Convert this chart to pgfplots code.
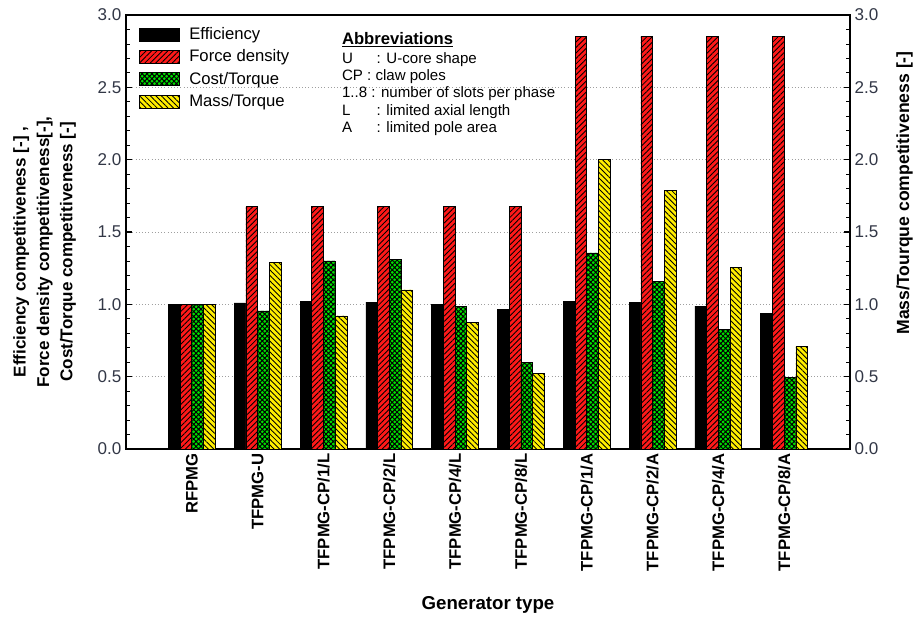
\documentclass[border=0pt]{standalone}
\usepackage{pgfplots}
\pgfplotsset{compat=1.18}
\usepackage{pgfplotstable}
\usepackage{fontspec}
\setmainfont{Liberation Sans}
\usetikzlibrary{patterns.meta}

\definecolor{barred}{RGB}{255,25,25}
\definecolor{bargreen}{RGB}{0,225,0}
\definecolor{baryellow}{RGB}{255,238,0}
\definecolor{ticktext}{RGB}{50,55,70}

\pgfplotstableread{
x eff fd ct mt
0 1.00 1.00 1.00 1.00
1 1.01 1.675 0.955 1.29
2 1.02 1.675 1.30 0.92
3 1.015 1.675 1.31 1.10
4 1.00 1.675 0.985 0.875
5 0.965 1.675 0.60 0.52
6 1.02 2.85 1.355 2.00
7 1.015 2.85 1.157 1.79
8 0.988 2.85 0.828 1.254
9 0.937 2.85 0.497 0.712
}\datatable

\begin{document}
\begin{tikzpicture}
\useasboundingbox (-94.5pt,-126.75pt) rectangle (595.5pt,336.75pt);
\pgfplotsset{
  common/.style={
    scale only axis, width=543pt, height=325.5pt,
    xmin=-1, xmax=10, ymin=0, ymax=3,
    ytick={0,0.5,...,3}, minor y tick num=4,
    tick align=inside, major tick length=4.5pt, minor tick length=2.8pt,
    axis line style={line width=1.5pt},
    every tick/.style={line width=0.9pt, black},
    minor tick style={line width=0.6pt},
    yticklabel style={/pgf/number format/.cd, fixed, fixed zerofill, precision=1, /tikz/.cd, font=\fontsize{12.8}{14}\selectfont, text=ticktext},
    /pgf/number format/assume math mode=true,
  },
}
\begin{axis}[common,
  ytick pos=left,
  xtick={0,...,9},
  xticklabels={RFPMG,TFPMG-U,TFPMG-CP/1/L,TFPMG-CP/2/L,TFPMG-CP/4/L,TFPMG-CP/8/L,TFPMG-CP/1/A,TFPMG-CP/2/A,TFPMG-CP/4/A,TFPMG-CP/8/A},
  xticklabel style={rotate=90, anchor=east, font=\bfseries\fontsize{12.5}{14}\selectfont},
  xtick style={draw=none},
  ymajorgrids, grid style={dash pattern=on 0.8pt off 1.6pt, gray!75, line width=0.7pt},
  xlabel={Generator type},
  every axis x label/.style={at={(rel axis cs:0.5,0)}, anchor=center, yshift=-117pt, font=\bfseries\fontsize{14}{16}\selectfont},
  ylabel={Efficiency competitiveness [-] ,\\Force density competitiveness[-],\\Cost/Torque competitiveness [-]},
  every axis y label/.style={at={(rel axis cs:0,0.454)}, xshift=-61pt, rotate=90, anchor=center, align=center, font=\bfseries\fontsize{12.8}{17.5}\selectfont},
  legend style={at={(rel axis cs:0.018,0.978)}, anchor=north west, draw=none, fill=none,
    font=\fontsize{12.5}{14}\selectfont, row sep=2.2pt, inner sep=0pt,
    /tikz/every odd column/.append style={column sep=5pt}},
  legend cell align=left,
  legend image code/.code={\draw[#1] (0pt,-4.8pt) rectangle (30pt,4.8pt);},
]
\addplot[ybar, bar width=0.178, bar shift=-0.267, fill=black, draw=black, line width=0.5pt]
  table[x=x, y=eff] {\datatable};
\addlegendentry{Efficiency}
\addplot[ybar, bar width=0.178, bar shift=-0.089, draw=black, line width=0.5pt,
  preaction={fill=barred}, pattern={Lines[angle=45,distance=2.9pt,line width=0.65pt]}, pattern color=black]
  table[x=x, y=fd] {\datatable};
\addlegendentry{Force density}
\addplot[ybar, bar width=0.178, bar shift=0.089, draw=black, line width=0.5pt,
  preaction={fill=bargreen}, pattern={Hatch[angle=45,distance=2.6pt,line width=0.75pt]}, pattern color=black]
  table[x=x, y=ct] {\datatable};
\addlegendentry{Cost/Torque}
\addplot[ybar, bar width=0.178, bar shift=0.267, draw=black, line width=0.5pt,
  preaction={fill=baryellow}, pattern={Lines[angle=-45,distance=2.9pt,line width=0.65pt]}, pattern color=black]
  table[x=x, y=mt] {\datatable};
\addlegendentry{Mass/Torque}
\node[anchor=north west, inner sep=0pt, align=left, font=\fontsize{11.3}{12.9}\selectfont] at (rel axis cs:0.298,0.961) {%
  {\fontsize{12.5}{14}\selectfont\bfseries\underline{Abbreviations}}\\[1.5pt]
  \makebox[26pt][l]{U}: U-core shape\\
  CP : claw poles\\
  1..8 : number of slots per phase\\
  \makebox[26pt][l]{L}: limited axial length\\
  \makebox[26pt][l]{A}: limited pole area};
\end{axis}
\begin{axis}[common,
  axis x line=none, axis y line*=right,
  ylabel={Mass/Tourque competitiveness [-]},
  every axis y label/.style={at={(rel axis cs:1,0.59)}, xshift=41pt, rotate=90, anchor=center, font=\bfseries\fontsize{13.2}{15}\selectfont},
]
\addplot[draw=none, forget plot] coordinates {(0,0) (9,0)};
\end{axis}
\end{tikzpicture}
\end{document}
